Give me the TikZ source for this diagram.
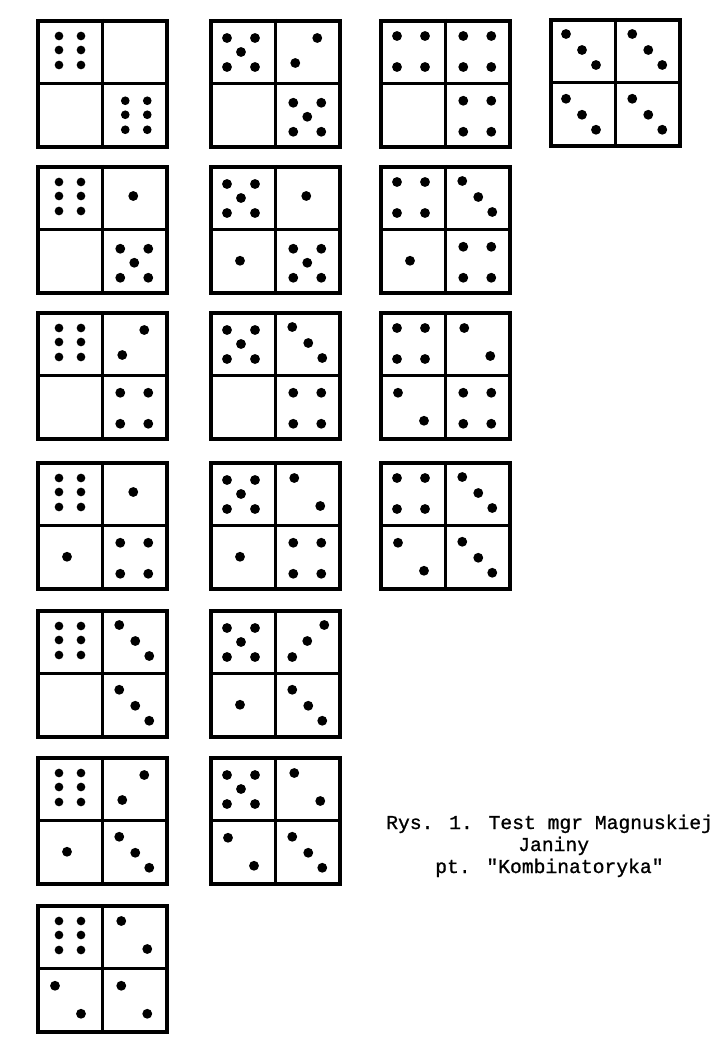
\documentclass[tikz,border=0pt]{standalone}
\usepackage{fontspec}
\newfontfamily\typewriter[FakeBold=1]{Liberation Mono}
\usepackage{tikz}

% pip patterns, cell coordinates measured from the cell's top left corner
\newcommand{\pipnone}{}
\newcommand{\pipone}{\fill[pip] (31,31) circle (4.2pt);}
\newcommand{\piptwoa}{\fill[pip] (19,17) circle (4.2pt) (45,45) circle (4.2pt);}
\newcommand{\piptwob}{\fill[pip] (42,19) circle (4.2pt) (20,44) circle (4.2pt);}
\newcommand{\pipthreea}{\fill[pip] (17,16) circle (4.2pt) (33,32) circle (4.2pt) (47,47) circle (4.2pt);}
\newcommand{\pipthreeb}{\fill[pip] (49,16) circle (4.2pt) (32,32) circle (4.2pt) (17,48) circle (4.2pt);}
\newcommand{\pipfour}{\fill[pip] (18,17) circle (4.2pt) (46,17) circle (4.2pt) (18,48) circle (4.2pt) (46,48) circle (4.2pt);}
\newcommand{\pipfive}{\fill[pip] (18,19) circle (4.2pt) (46,19) circle (4.2pt) (32,33) circle (4.2pt) (18,48) circle (4.2pt) (46,48) circle (4.2pt);}
\newcommand{\pipsix}{\fill[pip] (23,17) circle (3.7pt) (45,17) circle (3.7pt) (23,31) circle (3.7pt) (45,31) circle (3.7pt) (23,46) circle (3.7pt) (45,46) circle (3.7pt);}

% one card: name, then the four cells
\newcommand{\cardpips}[5]{%
    \draw[divider] (#1.north) -- (#1.south) (#1.west) -- (#1.east);
    \begin{scope}[shift={(#1.north west)}] #2 \end{scope}
    \begin{scope}[shift={(#1.north)}] #3 \end{scope}
    \begin{scope}[shift={(#1.west)}] #4 \end{scope}
    \begin{scope}[shift={(#1.center)}] #5 \end{scope}
}

\begin{document}
\begin{tikzpicture}[
        x=0.03cm, y=-0.03cm,
        card/.style={rectangle, draw=black, anchor=north west, inner sep=0pt,
                     minimum width=3.87cm, minimum height=3.78cm, line width=3pt},
        divider/.style={line width=2.5pt},
        pip/.style={fill=black},
        caption/.style={anchor=base west, inner sep=0pt, font=\typewriter\fontsize{16.8}{20}\selectfont}
    ]
        \useasboundingbox (0,0) rectangle (714,1043);

        \node[card] (r1a) at (36,19) {};
        \node[card] (r1b) at (209,19) {};
        \node[card] (r1c) at (379,19) {};
        \node[card] (r1d) at (549,18) {};
        \node[card] (r2a) at (36,165) {};
        \node[card] (r2b) at (209,165) {};
        \node[card] (r2c) at (379,165) {};
        \node[card] (r3a) at (36,311) {};
        \node[card] (r3b) at (209,311) {};
        \node[card] (r3c) at (379,311) {};
        \node[card] (r4a) at (36,461) {};
        \node[card] (r4b) at (209,461) {};
        \node[card] (r4c) at (379,461) {};
        \node[card] (r5a) at (36,609) {};
        \node[card] (r5b) at (209,609) {};
        \node[card] (r6a) at (36,756) {};
        \node[card] (r6b) at (209,756) {};
        \node[card] (r7a) at (36,904) {};

        \cardpips{r1a}{\pipsix}{\pipnone}{\pipnone}{\pipsix}
        \cardpips{r1b}{\pipfive}{\piptwob}{\pipnone}{\pipfive}
        \cardpips{r1c}{\pipfour}{\pipfour}{\pipnone}{\pipfour}
        \cardpips{r1d}{\pipthreea}{\pipthreea}{\pipthreea}{\pipthreea}
        \cardpips{r2a}{\pipsix}{\pipone}{\pipnone}{\pipfive}
        \cardpips{r2b}{\pipfive}{\pipone}{\pipone}{\pipfive}
        \cardpips{r2c}{\pipfour}{\pipthreea}{\pipone}{\pipfour}
        \cardpips{r3a}{\pipsix}{\piptwob}{\pipnone}{\pipfour}
        \cardpips{r3b}{\pipfive}{\pipthreea}{\pipnone}{\pipfour}
        \cardpips{r3c}{\pipfour}{\piptwoa}{\piptwoa}{\pipfour}
        \cardpips{r4a}{\pipsix}{\pipone}{\pipone}{\pipfour}
        \cardpips{r4b}{\pipfive}{\piptwoa}{\pipone}{\pipfour}
        \cardpips{r4c}{\pipfour}{\pipthreea}{\piptwoa}{\pipthreea}
        \cardpips{r5a}{\pipsix}{\pipthreea}{\pipnone}{\pipthreea}
        \cardpips{r5b}{\pipfive}{\pipthreeb}{\pipone}{\pipthreea}
        \cardpips{r6a}{\pipsix}{\piptwob}{\pipone}{\pipthreea}
        \cardpips{r6b}{\pipfive}{\piptwoa}{\piptwoa}{\pipthreea}
        \cardpips{r7a}{\pipsix}{\piptwoa}{\piptwoa}{\piptwoa}

        \node[caption] (rys) at (386,829) {Rys. 1. Test mgr Magnuskiej};
        \node[caption] (janiny) at (518,851) {Janiny};
        \node[caption] (title) at (435,873) {pt. "Kombinatoryka"};
    \end{tikzpicture}
\end{document}
